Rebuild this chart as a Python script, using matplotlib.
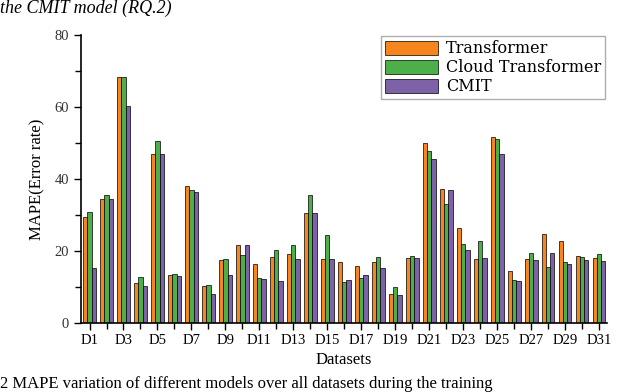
import matplotlib
matplotlib.use("Agg")
import matplotlib.pyplot as plt
import numpy as np
from matplotlib.ticker import MultipleLocator

datasets = [f"D{i}" for i in range(1, 32)]
transformer = [29.3, 34.4, 68.2, 10.9, 47.0, 13.2, 37.9, 10.2, 17.3, 21.6,
               16.2, 18.3, 19.0, 30.4, 17.7, 16.9, 15.9, 16.8, 7.9, 18.1,
               50.0, 37.2, 26.3, 17.8, 51.5, 14.4, 17.6, 24.7, 22.8, 18.6, 17.9]
cloud_transformer = [30.7, 35.4, 68.2, 12.6, 50.6, 13.5, 37.0, 10.6, 17.8, 18.7,
                     12.3, 20.2, 21.5, 35.4, 24.4, 11.2, 12.3, 18.4, 9.9, 18.6,
                     47.7, 33.1, 22.0, 22.6, 51.0, 11.9, 19.5, 15.4, 16.8, 18.2, 19.2]
cmit = [15.1, 34.4, 60.2, 10.2, 47.0, 13.1, 36.3, 8.0, 13.3, 21.6,
        12.2, 11.6, 17.7, 30.4, 17.7, 12.0, 13.3, 15.1, 7.8, 18.1,
        45.4, 36.9, 20.2, 18.1, 46.8, 11.6, 17.5, 19.3, 16.2, 17.5, 17.1]
series_names = ["Transformer", "Cloud Transformer", "CMIT"]
colors = ["#F7851E", "#4DAF4A", "#7E62A8"]

plt.rcParams['font.family'] = ['Liberation Serif', 'DejaVu Serif']

fig = plt.figure(figsize=(6.4, 3.92), dpi=100)
ax = fig.add_axes([0.1266, 0.1768, 0.8214, 0.7339])

x = np.arange(1, len(datasets) + 1)
w = 0.25
for k, (vals, name, c) in enumerate(zip([transformer, cloud_transformer, cmit], series_names, colors)):
    ax.bar(x + (k - 1) * w, vals, width=w, color=c, edgecolor="black", linewidth=0.5, label=name)

ax.set_xlim(0.5, 31.45)
ax.set_ylim(0, 80)
ax.set_xticks(x[::2])
ax.set_xticklabels(datasets[::2], fontsize=10.5)
ax.set_xticks(x[1::2], minor=True)
ax.yaxis.set_major_locator(MultipleLocator(20))
ax.yaxis.set_minor_locator(MultipleLocator(10))
ax.tick_params(axis='both', which='both', direction='out', width=1.0)
ax.tick_params(axis='both', which='major', length=5)
ax.tick_params(axis='both', which='minor', length=4)
ax.tick_params(axis='y', labelsize=10.5, labelcolor='#333333')
ax.spines['top'].set_visible(False)
ax.spines['right'].set_visible(False)
ax.spines['left'].set_linewidth(1.2)
ax.spines['bottom'].set_linewidth(1.2)
ax.set_xlabel("Datasets", fontsize=12, labelpad=3)
ax.set_ylabel("MAPE(Error rate)", fontsize=12, labelpad=7)

leg = ax.legend(loc='upper right', bbox_to_anchor=(0.997, 0.995),
                prop={'family': 'DejaVu Serif', 'size': 11.5},
                handlelength=3.3, handleheight=1.0, borderpad=0.25, labelspacing=0.12,
                handletextpad=0.5, borderaxespad=0.0, frameon=True, fancybox=False,
                edgecolor='#999999')

fig.text(0.0, 1.0, "the CMIT model (RQ.2)", fontsize=13, style='italic', ha='left', va='top')
fig.text(0.0, 0.0, "2 MAPE variation of different models over all datasets during the training",
         fontsize=12, ha='left', va='bottom')

fig.savefig("out.png", dpi=100)
